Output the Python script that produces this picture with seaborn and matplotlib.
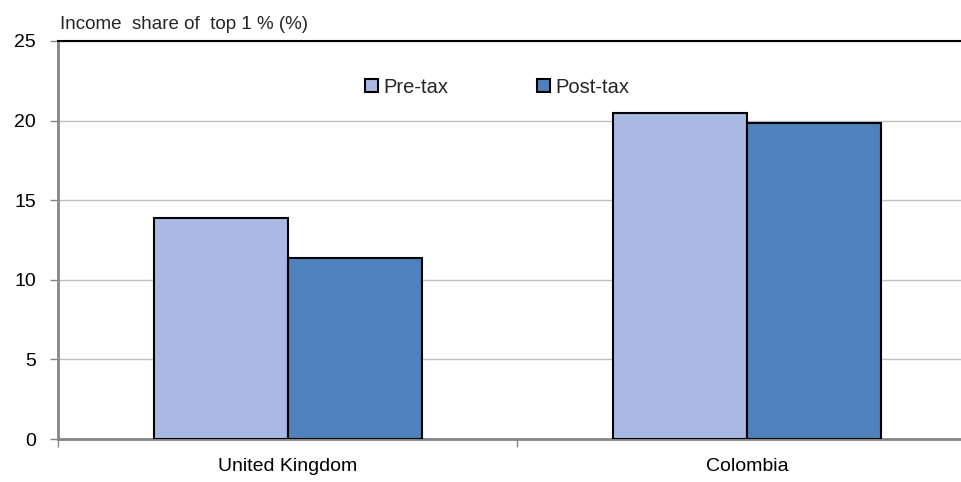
import pandas as pd
import matplotlib
matplotlib.use("Agg")
import matplotlib.pyplot as plt
import seaborn as sns

countries = ["United Kingdom", "Colombia"]
pre_tax = [13.9, 20.5]
post_tax = [11.4, 19.85]
series = ["Pre-tax", "Post-tax"]
colors = ["#A9B9E3", "#4F81BD"]

df = pd.DataFrame({
    "country": countries * 2,
    "share": pre_tax + post_tax,
    "kind": [series[0]] * 2 + [series[1]] * 2,
})

sns.set_theme(style="white")
plt.rcParams["font.family"] = ["Liberation Sans Narrow", "Liberation Sans", "DejaVu Sans"]

fig = plt.figure(figsize=(9.61, 4.82), dpi=100)
ax = fig.add_axes([0.0604, 0.0892, 0.956, 0.8258])

sns.barplot(data=df, x="country", y="share", hue="kind", order=countries,
            hue_order=series, palette=colors, width=0.584, gap=0,
            edgecolor="black", linewidth=1.5, saturation=1, ax=ax, zorder=3)

ax.set_ylim(0, 25)
ax.set_xlim(-0.5, 1.5)
ax.set_yticks([0, 5, 10, 15, 20, 25])
ax.yaxis.grid(True, color="#BFBFBF", linewidth=1, zorder=0)
ax.set_axisbelow(True)
ax.set_xlabel("")
ax.set_ylabel("")

for side in ["left", "bottom"]:
    ax.spines[side].set_color("#868686")
    ax.spines[side].set_linewidth(2)
ax.spines["top"].set_color("black")
ax.spines["top"].set_linewidth(1.5)
ax.spines["right"].set_visible(False)

ax.tick_params(axis="y", which="major", left=True, length=6, width=1,
               color="#868686", labelsize=14, pad=10, labelcolor="black")
ax.tick_params(axis="x", which="major", length=0, labelsize=14, pad=14,
               labelcolor="black")
ax.set_xticks([-0.5, 0.5, 1.5], minor=True)
ax.tick_params(axis="x", which="minor", bottom=True, length=6, width=1,
               color="#868686")

leg = ax.legend(loc="upper center", bbox_to_anchor=(0.478, 0.953), ncol=2,
                frameon=False, fontsize=14.5, handlelength=0.65, handleheight=0.65,
                handletextpad=0.25, columnspacing=4.4)

fig.text(0.062, 0.94, "Income  share of  top 1 % (%)", fontsize=13.5,
         ha="left", va="baseline")

fig.savefig("out.png", dpi=100)
